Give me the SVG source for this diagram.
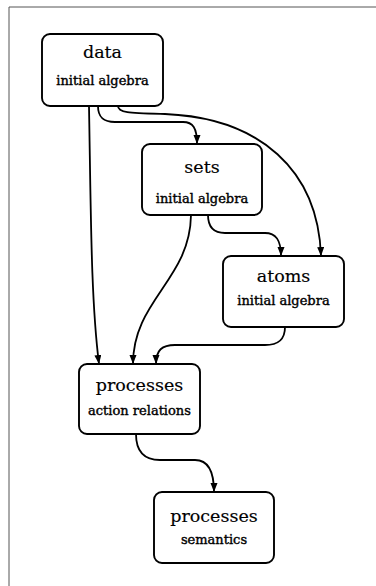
<svg xmlns="http://www.w3.org/2000/svg" width="376" height="586" viewBox="0 0 376 586">
<style>
.box{fill:#fff;stroke:#000;stroke-width:1.9}
.t{font-family:"DejaVu Serif","Liberation Serif",serif;font-size:17.5px;text-anchor:middle;fill:#000;stroke:#000;stroke-width:0.15}
.s{font-family:"DejaVu Serif","Liberation Serif",serif;font-size:13px;text-anchor:middle;fill:#000;stroke:#000;stroke-width:0.4}
.e{fill:none;stroke:#000;stroke-width:1.8}
</style>
<defs>
<marker id="a" markerUnits="userSpaceOnUse" markerWidth="12" markerHeight="10" refX="9" refY="3.5" orient="auto">
<path d="M0,0 L9,3.5 L0,7 Z" fill="#000"/>
</marker>
</defs>
<rect width="376" height="586" fill="#fff"/>
<path d="M9,586 L9,7 L376,7" fill="none" stroke="#555" stroke-width="1"/>
<g id="edges">
<path class="e" marker-end="url(#a)" d="M89,106 C91,220 91,300 99,364"/>
<path class="e" marker-end="url(#a)" d="M98,106 C98,118 104,122 115,122 L183,122 C193,122 197,128 197,144"/>
<path class="e" marker-end="url(#a)" d="M118,106 C118,113 130,113 165,114 C260,118 318,170 321,256"/>
<path class="e" marker-end="url(#a)" d="M191,215 C190,280 133,300 133,364"/>
<path class="e" marker-end="url(#a)" d="M208,215 C208,228 214,233 225,233 L265,233 C276,233 281,240 281,256"/>
<path class="e" marker-end="url(#a)" d="M285,327 C285,340 278,345 265,345 L175,345 C162,345 156,350 156,364"/>
<path class="e" marker-end="url(#a)" d="M136,434 C136,452 145,460 160,460 L195,460 C207,460 214,470 214,492"/>
</g>
<g id="data">
<rect class="box" x="42" y="34" width="121" height="72" rx="8"/>
<text class="t" x="102.5" y="58">data</text>
<text class="s" x="102.5" y="85">initial algebra</text>
</g>
<g id="sets">
<rect class="box" x="142" y="144" width="120" height="71" rx="8"/>
<text class="t" x="202" y="173">sets</text>
<text class="s" x="202" y="203">initial algebra</text>
</g>
<g id="atoms">
<rect class="box" x="223" y="256" width="121" height="71" rx="8"/>
<text class="t" x="283.5" y="282">atoms</text>
<text class="s" x="283.5" y="305">initial algebra</text>
</g>
<g id="processes1">
<rect class="box" x="79" y="364" width="121" height="70" rx="8"/>
<text class="t" x="139.5" y="391">processes</text>
<text class="s" x="139.5" y="415">action relations</text>
</g>
<g id="processes2">
<rect class="box" x="154" y="492" width="120" height="71" rx="8"/>
<text class="t" x="214" y="522">processes</text>
<text class="s" x="214" y="544">semantics</text>
</g>
</svg>
